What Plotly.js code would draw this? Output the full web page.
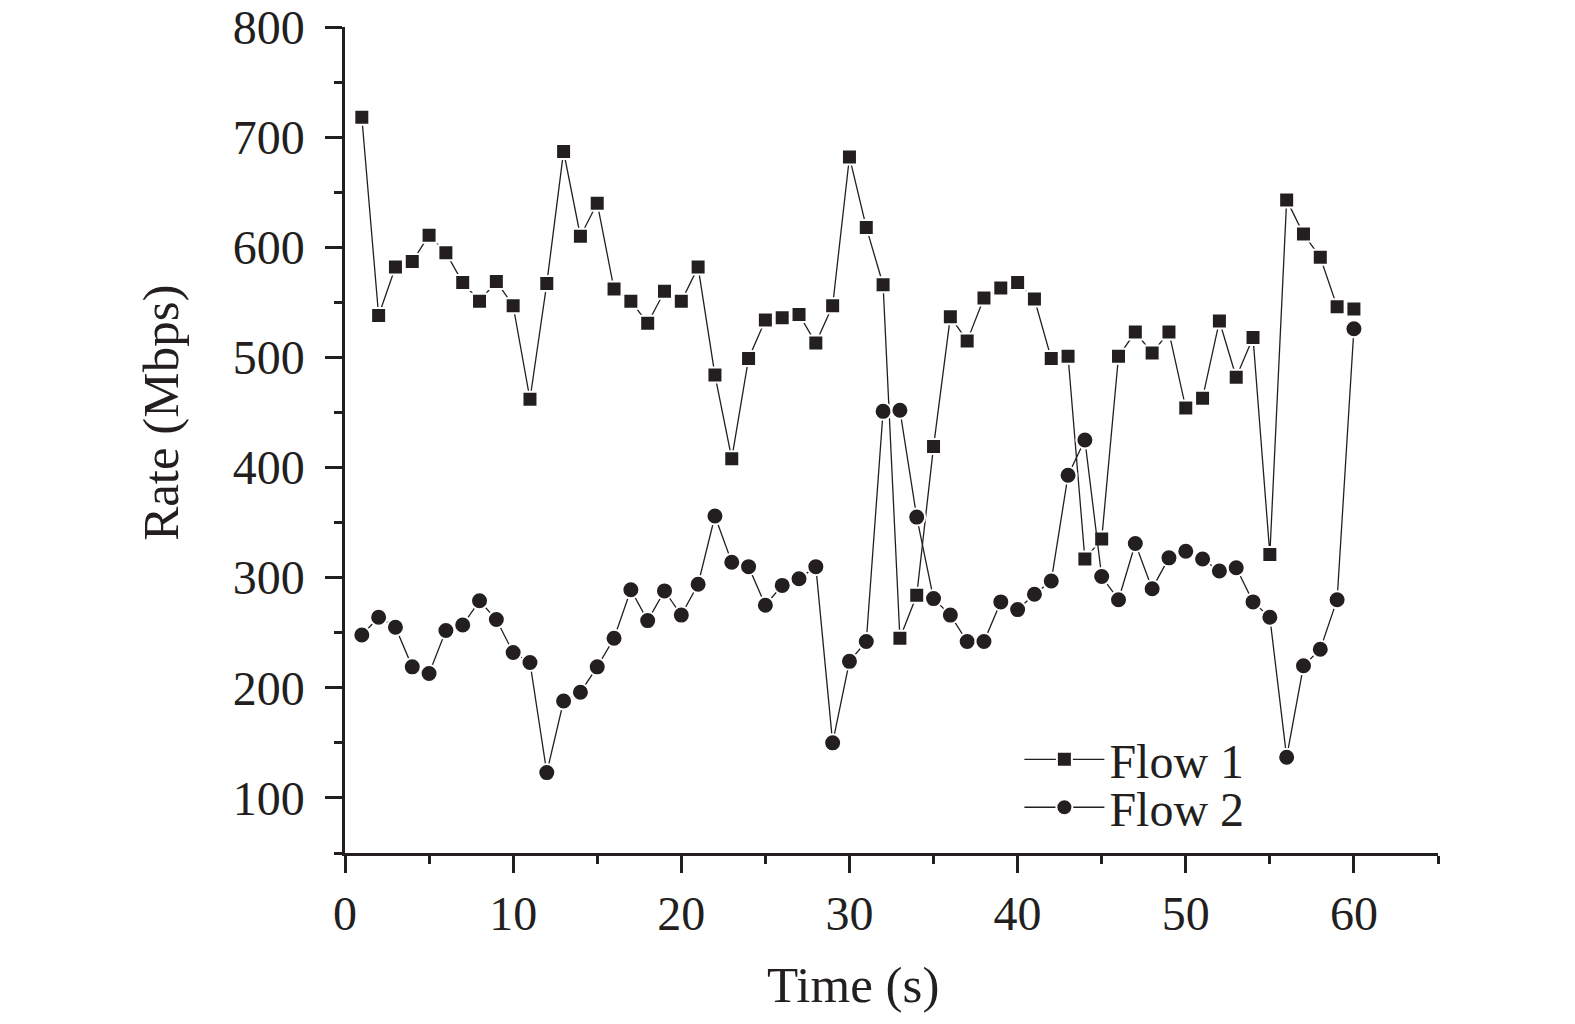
<!DOCTYPE html>
<html>
<head>
<meta charset="utf-8">
<script src="https://cdn.plot.ly/plotly-3.0.1.min.js"></script>
<style>
  html, body { margin: 0; padding: 0; background: #fff; }
  #chart { width: 1575px; height: 1024px; }
</style>
</head>
<body>
<div id="chart"></div>
<script>
// time axis, one sample per second
const timeSec = [];
for (let t = 1; t <= 60; t++) timeSec.push(t);

// rate readings (Mbps)
const flow1 = [
  718, 538, 582, 587, 611, 595, 568, 551, 569, 547,
  462, 567, 687, 610, 640, 562, 551, 531, 560, 551,
  582, 484, 408, 499, 534, 536, 539, 513, 547, 682,
  618, 566, 245, 284, 419, 537, 515, 554, 563, 568,
  553, 499, 501, 317, 335, 501, 523, 504, 523, 454,
  463, 533, 482, 518, 321, 643, 612, 591, 546, 544
];
const flow2 = [
  248, 264, 255, 219, 213, 252, 257, 279, 262, 232,
  223, 123, 188, 196, 219, 245, 289, 261, 288, 266,
  294, 356, 314, 310, 275, 293, 299, 310, 150, 224,
  242, 451, 452, 355, 281, 266, 242, 242, 278, 271,
  285, 297, 393, 425, 301, 280, 331, 290, 318, 324,
  317, 306, 309, 278, 264, 137, 220, 235, 280, 526
];

const ink = '#231f20';
const serif = 'Liberation Serif, Times New Roman, serif';

function flowTrace(name, y, symbol, size, legendId) {
  return {
    type: 'scatter',
    mode: 'lines+markers',
    name: name,
    x: timeSec,
    y: y,
    legend: legendId,
    line: { color: ink, width: 1.3 },
    marker: {
      symbol: symbol,
      size: size,
      color: ink,
      line: { color: '#ffffff', width: 2 }
    },
    hoverinfo: 'x+y+name'
  };
}

const traces = [
  flowTrace('Flow 1', flow1, 'square', 15, 'legend'),
  flowTrace('Flow 2', flow2, 'circle', 17, 'legend2')
];

const axisCommon = {
  showline: true,
  linecolor: ink,
  linewidth: 2.5,
  showgrid: false,
  zeroline: false,
  ticks: 'outside',
  ticklen: 17,
  tickwidth: 2.5,
  tickcolor: ink,
  tickfont: { family: serif, size: 48, color: ink },
  mirror: false
};

const legendCommon = {
  font: { family: serif, size: 48, color: ink },
  bgcolor: 'rgba(0,0,0,0)',
  itemwidth: 80,
  xanchor: 'left',
  yanchor: 'middle',
  x: 0.617
};

const titleFont = { family: serif, size: 51, color: ink };

const layout = {
  width: 1575,
  height: 1024,
  paper_bgcolor: '#ffffff',
  plot_bgcolor: '#ffffff',
  margin: { l: 345, r: 137, t: 27, b: 171 },
  showlegend: true,
  xaxis: Object.assign({}, axisCommon, {
    range: [0, 65],
    dtick: 10,
    tick0: 0,
    ticklabelstandoff: 0,
    minor: { dtick: 5, ticks: 'outside', ticklen: 8, tickwidth: 2.5, tickcolor: ink }
  }),
  yaxis: Object.assign({}, axisCommon, {
    range: [50, 800],
    dtick: 100,
    tick0: 0,
    ticklabelstandoff: 11,
    minor: { dtick: 50, ticks: 'outside', ticklen: 8, tickwidth: 2.5, tickcolor: ink }
  }),
  legend: Object.assign({}, legendCommon, { y: 0.113 }),
  legend2: Object.assign({}, legendCommon, { y: 0.055 }),
  annotations: [
    {
      text: 'Time (s)', font: titleFont, showarrow: false,
      xref: 'x', x: 30.2, yref: 'paper', y: -0.16,
      xanchor: 'center', yanchor: 'middle'
    },
    {
      text: 'Rate (Mbps)', font: titleFont, showarrow: false, textangle: -90,
      xref: 'paper', x: -0.168, yref: 'y', y: 450,
      xanchor: 'center', yanchor: 'middle'
    }
  ]
};

Plotly.newPlot('chart', traces, layout, { displayModeBar: false, responsive: false });
</script>
</body>
</html>
